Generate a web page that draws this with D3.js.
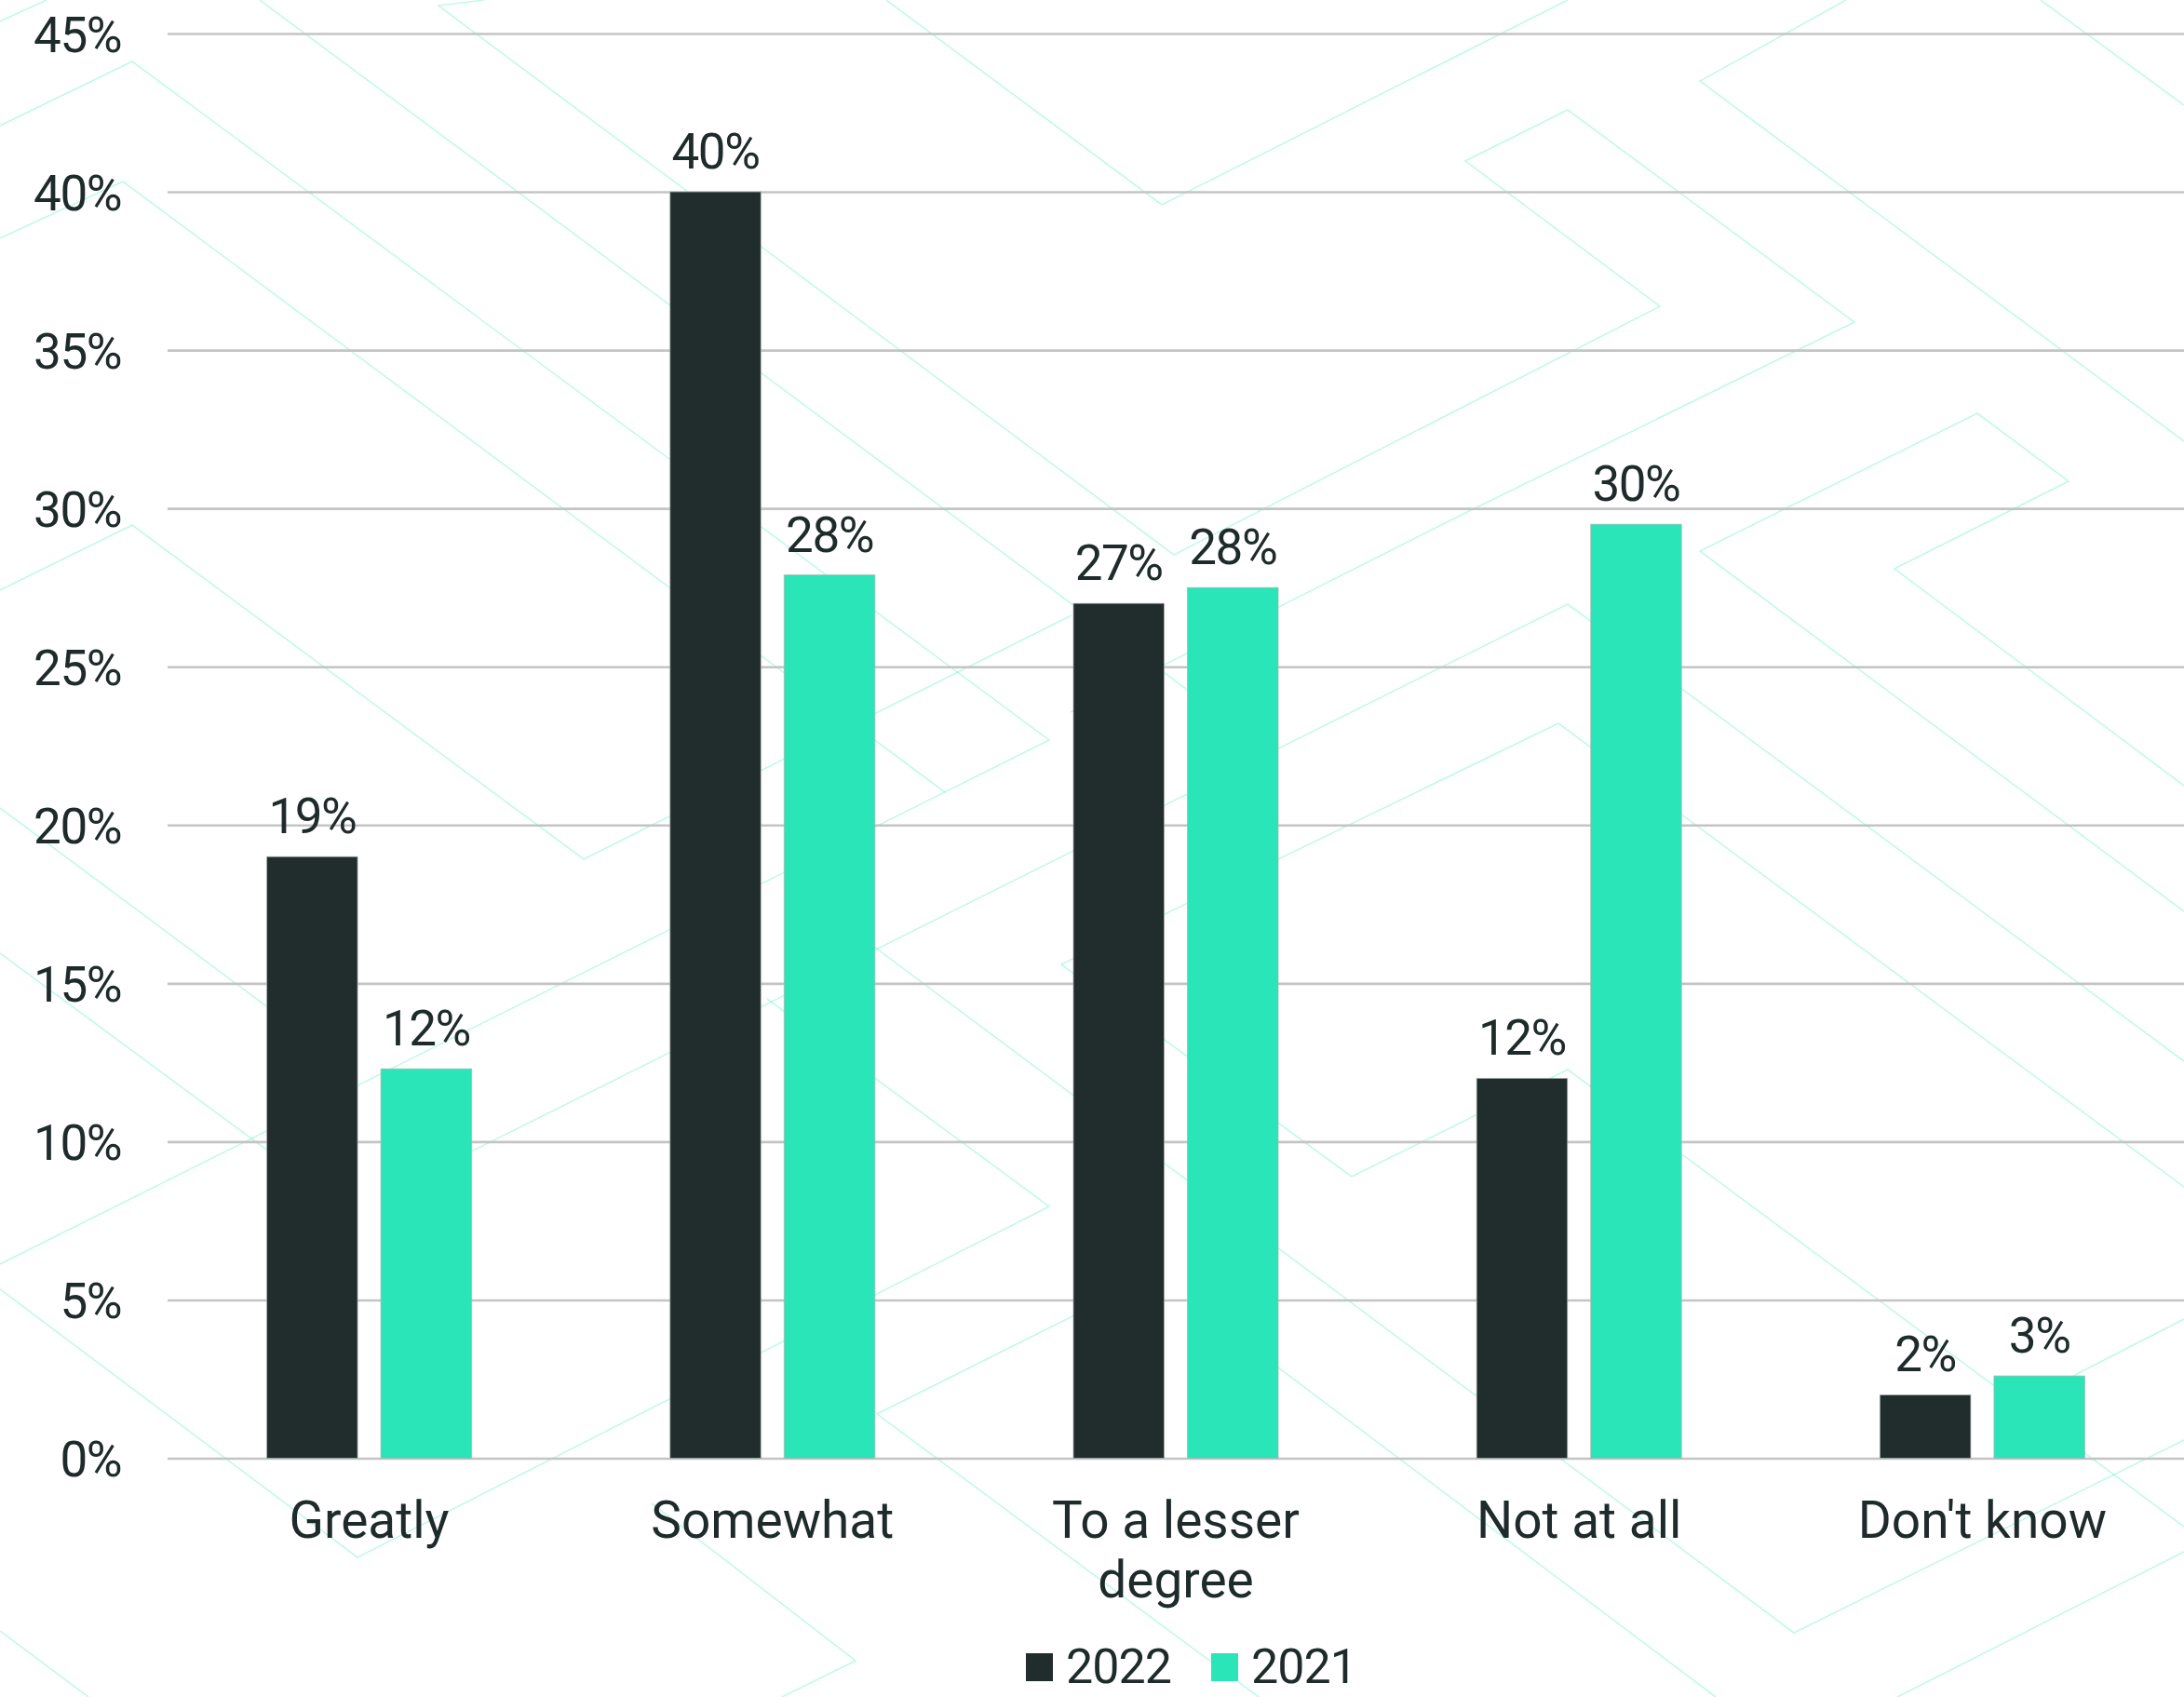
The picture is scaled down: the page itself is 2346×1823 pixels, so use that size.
<!DOCTYPE html>
<html>
<head>
<meta charset="utf-8">
<script src="https://cdn.jsdelivr.net/npm/d3@7"></script>
<style>
  html, body { margin: 0; padding: 0; background: #ffffff; }
  svg { display: block; }
  text { font-family: Roboto, "Open Sans", sans-serif; fill: #1f2a2b; }
</style>
</head>
<body>
<div id="chart"></div>
<script>
// ---- data ----
const categories = ["Greatly", "Somewhat", "To a lesser degree", "Not at all", "Don't know"];
const categoryLines = [["Greatly"], ["Somewhat"], ["To a lesser", "degree"], ["Not at all"], ["Don't know"]];
const seriesNames = ["2022", "2021"];
const values2022 = [19, 40, 27, 12, 2];
const values2021 = [12.3, 27.9, 27.5, 29.5, 2.6];
const yTicks = [0, 5, 10, 15, 20, 25, 30, 35, 40, 45];

// ---- look ----
const W = 2346, H = 1823;
const colors = { "2022": "#212d2d", "2021": "#29e5b8" };
const textColor = "#1f2a2b";

// faint chevron motif behind the chart, in page units
const motif = [
  [[0,23],[50,0]],
  [[0,135],[142,66],[1127,795],[0,1358]],
  [[0,256],[132,195],[1015,851]],
  [[0,634],[142,564],[627,923],[1151,661]],
  [[279,0],[1290,752]],
  [[520,0],[471,6],[1261,596],[1783,329],[1574,173],[1684,118],[1992,346],[1564,556],[1150,765]],
  [[952,0],[1248,220],[1684,0]],
  [[1983,0],[1826,87],[2346,474]],
  [[2192,0],[2346,113]],
  [[1826,592],[2124,444],[2222,517],[2035,611],[2346,844]],
  [[1826,592],[2346,979]],
  [[1140,1036],[1674,777],[2346,1275]],
  [[1140,1036],[1452,1264],[1684,1149],[2346,1640]],
  [[2346,1140],[1684,649],[420,1280]],
  [[824,1073],[1127,1296],[384,1673],[0,1385]],
  [[880,973],[1927,1754],[2346,1547]],
  [[1300,1414],[1843,1823]],
  [[0,868],[289,1083]],
  [[0,1024],[289,1237]],
  [[0,1752],[95,1823]],
  [[1200,1390],[942,1519],[1352,1823]],
  [[700,1615],[919,1784],[840,1823]],
  [[2038,1823],[2346,1667]],
  [[2227,1478],[2346,1417]]
];

const svg = d3.select("#chart").append("svg")
  .attr("width", W).attr("height", H)
  .attr("viewBox", `0 0 ${W} ${H}`);

svg.append("rect").attr("width", W).attr("height", H).attr("fill", "#ffffff");

// ---- motif ----
const mx = d3.scaleLinear().domain([0, 2346]).range([0, W]);
const my = d3.scaleLinear().domain([0, 1823]).range([0, H]);
const motifLine = d3.line().x(d => mx(d[0])).y(d => my(d[1]));
svg.append("g").selectAll("path").data(motif).join("path")
  .attr("d", motifLine)
  .attr("fill", "none")
  .attr("stroke", "#29e5b8")
  .attr("stroke-opacity", 0.28)
  .attr("stroke-width", 1.6)
  .attr("stroke-linejoin", "miter");

// ---- scales ----
const plotLeft = 180, plotRight = W;
const y = d3.scaleLinear().domain([0, 45]).range([1566.5, 36]);
const x0 = d3.scaleBand().domain(categories).range([plotLeft, plotRight])
  .paddingInner(0.492).paddingOuter(0.246);
const x1 = d3.scaleBand().domain(seriesNames).range([0, x0.bandwidth()])
  .paddingInner(0.204);

// ---- grid + y axis ----
const yAxis = d3.axisLeft(y).tickValues(yTicks)
  .tickSize(-(plotRight - plotLeft))
  .tickPadding(50)
  .tickFormat(d => d + "%");
const gy = svg.append("g").attr("transform", `translate(${plotLeft},0)`).call(yAxis);
gy.select(".domain").remove();
gy.selectAll(".tick line").attr("stroke", "#c4c4c4").attr("stroke-width", 2.6);
gy.selectAll(".tick text")
  .attr("fill", textColor)
  .style("font-size", "53px")
  .style("letter-spacing", "-1.5px")
  .attr("dy", "0.36em");

// ---- bars ----
const rows = categories.map((c, i) => ({
  category: c,
  items: [
    { series: "2022", value: values2022[i] },
    { series: "2021", value: values2021[i] }
  ]
}));

const groups = svg.append("g").selectAll("g").data(rows).join("g")
  .attr("transform", d => `translate(${x0(d.category)},0)`);

groups.selectAll("rect").data(d => d.items).join("rect")
  .attr("x", d => x1(d.series))
  .attr("y", d => y(d.value))
  .attr("width", x1.bandwidth())
  .attr("height", d => y(0) - y(d.value))
  .attr("fill", d => colors[d.series])
  .attr("stroke", "#aab3b1")
  .attr("stroke-width", 1)
  .attr("stroke-opacity", 0.7);

groups.selectAll("text.val").data(d => d.items).join("text")
  .attr("class", "val")
  .attr("x", d => x1(d.series) + x1.bandwidth() / 2)
  .attr("y", d => y(d.value) - 25)
  .attr("text-anchor", "middle")
  .style("font-size", "53px")
  .style("letter-spacing", "-1.5px")
  .text(d => Math.round(d.value) + "%");

// ---- category labels ----
const catG = svg.append("g").selectAll("text").data(categories).join("text")
  .attr("x", d => x0(d) + x0.bandwidth() / 2)
  .attr("y", 1652)
  .attr("text-anchor", "middle")
  .style("font-size", "55px");
catG.each(function (d, i) {
  const t = d3.select(this);
  categoryLines[i].forEach((line, k) => {
    t.append("tspan")
      .attr("x", x0(d) + x0.bandwidth() / 2)
      .attr("dy", k === 0 ? 0 : 64)
      .text(line);
  });
});

// ---- legend ----
const legendX = [1102, 1301];
const legend = svg.append("g").selectAll("g").data(seriesNames).join("g")
  .attr("transform", (d, i) => `translate(${legendX[i]},1776)`);
legend.append("rect")
  .attr("width", 29).attr("height", 30)
  .attr("fill", d => colors[d]);
legend.append("text")
  .attr("x", 43).attr("y", 32)
  .style("font-size", "52px")
  .style("letter-spacing", "-1px")
  .text(d => d);
</script>
</body>
</html>
